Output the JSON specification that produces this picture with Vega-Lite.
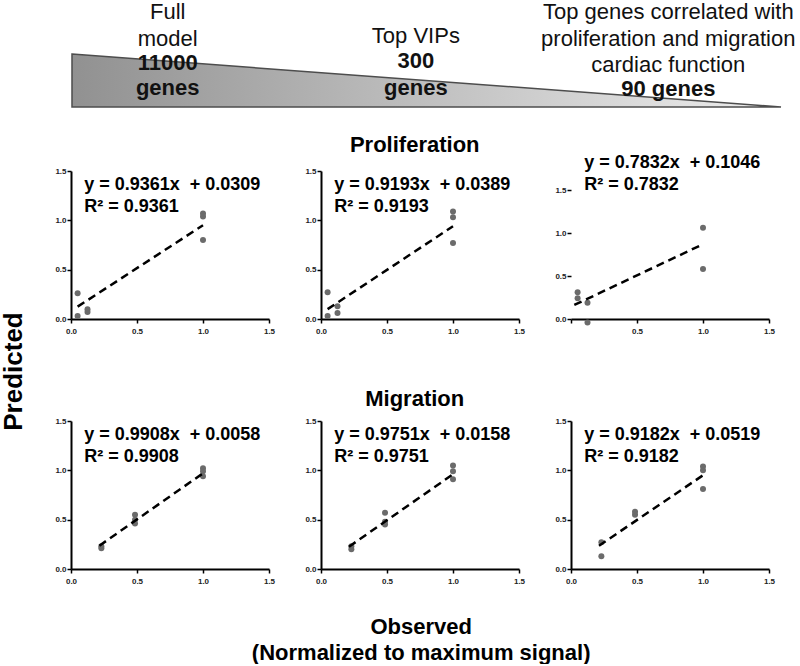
{
  "$schema": "https://vega.github.io/schema/vega-lite/v6.json",
  "padding": 0,
  "background": "white",
  "datasets": {
    "tri": [{"pos": 0, "h": 1}, {"pos": 1, "h": 0}],
    "hdr": [
      {"col": "left", "kind": "plain", "txt": ["Full", "model"]},
      {"col": "left", "kind": "bold", "txt": ["11000", "genes"]},
      {"col": "mid", "kind": "plain", "txt": ["Top VIPs"]},
      {"col": "mid", "kind": "bold", "txt": ["300", "genes"]},
      {"col": "right", "kind": "plain", "txt": ["Top genes correlated with", "proliferation and migration", "cardiac function"]},
      {"col": "right", "kind": "bold", "txt": ["90 genes"]}
    ],
    "pts": [
      {"panel": "P1", "obs": 0.05, "pred": 0.26}, {"panel": "P1", "obs": 0.05, "pred": 0.03}, {"panel": "P1", "obs": 0.125, "pred": 0.10}, {"panel": "P1", "obs": 0.125, "pred": 0.07}, {"panel": "P1", "obs": 1.0, "pred": 1.07}, {"panel": "P1", "obs": 1.0, "pred": 1.04}, {"panel": "P1", "obs": 1.0, "pred": 0.80},
      {"panel": "P2", "obs": 0.05, "pred": 0.27}, {"panel": "P2", "obs": 0.05, "pred": 0.03}, {"panel": "P2", "obs": 0.125, "pred": 0.13}, {"panel": "P2", "obs": 0.125, "pred": 0.06}, {"panel": "P2", "obs": 1.0, "pred": 1.09}, {"panel": "P2", "obs": 1.0, "pred": 1.03}, {"panel": "P2", "obs": 1.0, "pred": 0.77},
      {"panel": "P3", "obs": 0.05, "pred": 0.31}, {"panel": "P3", "obs": 0.05, "pred": 0.24}, {"panel": "P3", "obs": 0.125, "pred": 0.19}, {"panel": "P3", "obs": 0.125, "pred": -0.04}, {"panel": "P3", "obs": 1.0, "pred": 1.06}, {"panel": "P3", "obs": 1.0, "pred": 0.58},
      {"panel": "M1", "obs": 0.23, "pred": 0.23}, {"panel": "M1", "obs": 0.23, "pred": 0.21}, {"panel": "M1", "obs": 0.485, "pred": 0.55}, {"panel": "M1", "obs": 0.485, "pred": 0.50}, {"panel": "M1", "obs": 0.485, "pred": 0.46}, {"panel": "M1", "obs": 1.0, "pred": 1.02}, {"panel": "M1", "obs": 1.0, "pred": 0.99}, {"panel": "M1", "obs": 1.0, "pred": 0.94},
      {"panel": "M2", "obs": 0.23, "pred": 0.23}, {"panel": "M2", "obs": 0.23, "pred": 0.20}, {"panel": "M2", "obs": 0.485, "pred": 0.57}, {"panel": "M2", "obs": 0.485, "pred": 0.48}, {"panel": "M2", "obs": 0.485, "pred": 0.45}, {"panel": "M2", "obs": 1.0, "pred": 1.05}, {"panel": "M2", "obs": 1.0, "pred": 0.99}, {"panel": "M2", "obs": 1.0, "pred": 0.91},
      {"panel": "M3", "obs": 0.23, "pred": 0.27}, {"panel": "M3", "obs": 0.23, "pred": 0.13}, {"panel": "M3", "obs": 0.485, "pred": 0.58}, {"panel": "M3", "obs": 0.485, "pred": 0.55}, {"panel": "M3", "obs": 1.0, "pred": 1.04}, {"panel": "M3", "obs": 1.0, "pred": 1.00}, {"panel": "M3", "obs": 1.0, "pred": 0.81}
    ],
    "fits": [
      {"panel": "P1", "x0": 0.05, "y0": 0.125, "x1": 1.0, "y1": 0.95},
      {"panel": "P2", "x0": 0.05, "y0": 0.10, "x1": 1.0, "y1": 0.94},
      {"panel": "P3", "x0": 0.025, "y0": 0.163, "x1": 1.0, "y1": 0.87},
      {"panel": "M1", "x0": 0.215, "y0": 0.236, "x1": 1.0, "y1": 0.97},
      {"panel": "M2", "x0": 0.212, "y0": 0.226, "x1": 1.0, "y1": 0.96},
      {"panel": "M3", "x0": 0.212, "y0": 0.236, "x1": 1.0, "y1": 0.95}
    ],
    "eqs": [
      {"panel": "P1", "eq": "y = 0.9361x\u00a0 + 0.0309", "r2": "R² = 0.9361"},
      {"panel": "P2", "eq": "y = 0.9193x\u00a0 + 0.0389", "r2": "R² = 0.9193"},
      {"panel": "P3", "eq": "y = 0.7832x\u00a0 + 0.1046", "r2": "R² = 0.7832"},
      {"panel": "M1", "eq": "y = 0.9908x\u00a0 + 0.0058", "r2": "R² = 0.9908"},
      {"panel": "M2", "eq": "y = 0.9751x\u00a0 + 0.0158", "r2": "R² = 0.9751"},
      {"panel": "M3", "eq": "y = 0.9182x\u00a0 + 0.0519", "r2": "R² = 0.9182"}
    ]
  },
  "config": {
    "view": {"stroke": null},
    "font": "Liberation Sans",
    "axis": {"domainColor": "#000", "domainWidth": 2, "tickColor": "#000", "tickWidth": 1.5, "tickSize": 4, "labelFont": "Liberation Sans", "labelFontWeight": "bold", "labelFontSize": 8, "labelColor": "#222", "grid": false, "title": null, "labelFlush": false, "labelOverlap": false},
    "title": {"font": "Liberation Sans", "fontWeight": "bold", "fontSize": 22, "color": "#000", "anchor": "middle"}
  },
  "title": {"text": ["Observed", "(Normalized to maximum signal)"], "orient": "bottom", "anchor": "middle", "offset": 32, "dx": 23, "lineHeight": 26},
  "spacing": 23,
  "vconcat": [
    {
      "width": 712, "height": 107,
      "layer": [
        {"data": {"name": "tri"},
         "mark": {"type": "area", "line": false, "stroke": "#4d4d4d", "strokeWidth": 1.5, "fill": {"gradient": "linear", "x1": 0, "x2": 1, "y1": 0, "y2": 0, "stops": [{"offset": 0, "color": "#919191"}, {"offset": 1, "color": "#eeeeee"}]}},
         "encoding": {
           "x": {"field": "pos", "type": "quantitative", "scale": {"domain": [-0.0014, 1.0028], "nice": false, "zero": false}, "axis": null},
           "y": {"field": "h", "type": "quantitative", "scale": {"domain": [0, 2.02], "nice": false}, "axis": null},
           "y2": {"datum": 0}
         }},
        {"data": {"name": "hdr"}, "transform": [{"filter": "datum.col == 'left' && datum.kind == 'plain'"}],
         "mark": {"type": "text", "fontSize": 22, "lineHeight": 27, "baseline": "alphabetic", "align": "center", "color": "#111"},
         "encoding": {"x": {"datum": 0.135}, "y": {"datum": 1.66}, "text": {"field": "txt"}}},
        {"data": {"name": "hdr"}, "transform": [{"filter": "datum.col == 'left' && datum.kind == 'bold'"}],
         "mark": {"type": "text", "fontSize": 22, "fontWeight": "bold", "lineHeight": 25, "baseline": "alphabetic", "align": "center", "color": "#111"},
         "encoding": {"x": {"datum": 0.135}, "y": {"datum": 0.699}, "text": {"field": "txt"}}},
        {"data": {"name": "hdr"}, "transform": [{"filter": "datum.col == 'mid' && datum.kind == 'plain'"}],
         "mark": {"type": "text", "fontSize": 22, "lineHeight": 26, "baseline": "alphabetic", "align": "center", "color": "#111"},
         "encoding": {"x": {"datum": 0.485}, "y": {"datum": 1.208}, "text": {"field": "txt"}}},
        {"data": {"name": "hdr"}, "transform": [{"filter": "datum.col == 'mid' && datum.kind == 'bold'"}],
         "mark": {"type": "text", "fontSize": 22, "fontWeight": "bold", "lineHeight": 27, "baseline": "alphabetic", "align": "center", "color": "#111"},
         "encoding": {"x": {"datum": 0.485}, "y": {"datum": 0.736}, "text": {"field": "txt"}}},
        {"data": {"name": "hdr"}, "transform": [{"filter": "datum.col == 'right' && datum.kind == 'plain'"}],
         "mark": {"type": "text", "fontSize": 22, "lineHeight": 26.5, "baseline": "alphabetic", "align": "center", "color": "#111"},
         "encoding": {"x": {"datum": 0.841}, "y": {"datum": 1.66}, "text": {"field": "txt"}}},
        {"data": {"name": "hdr"}, "transform": [{"filter": "datum.col == 'right' && datum.kind == 'bold'"}],
         "mark": {"type": "text", "fontSize": 22, "fontWeight": "bold", "baseline": "alphabetic", "align": "center", "color": "#111"},
         "encoding": {"x": {"datum": 0.841}, "y": {"datum": 0.208}, "text": {"field": "txt"}}}
      ]
    },
    {
      "title": {"text": "Predicted", "orient": "left", "anchor": "middle", "fontSize": 26, "offset": 28, "dx": -12},
      "spacing": 53,
      "vconcat": [
        {
          "title": {"text": "Proliferation", "offset": -3},
          "bounds": "flush",
          "spacing": 52,
          "hconcat": [
            {"width": 198, "height": 148, "layer": [
              {"data": {"name": "pts"}, "transform": [{"filter": "datum.panel == 'P1'"}], "mark": {"type": "circle", "size": 36, "color": "#6b6b6b", "opacity": 1},
               "encoding": {"x": {"field": "obs", "type": "quantitative", "scale": {"domain": [0, 1.5], "nice": false}, "axis": {"values": [0, 0.5, 1, 1.5], "format": ".1f", "labelPadding": 4}},
                            "y": {"field": "pred", "type": "quantitative", "scale": {"domain": [0, 1.5], "nice": false}, "axis": {"values": [0, 0.5, 1, 1.5], "format": ".1f", "labelPadding": 1}}}},
              {"data": {"name": "fits"}, "transform": [{"filter": "datum.panel == 'P1'"}], "mark": {"type": "rule", "strokeDash": [8, 5], "strokeWidth": 2.5, "color": "#000"},
               "encoding": {"x": {"field": "x0", "type": "quantitative"}, "y": {"field": "y0", "type": "quantitative"}, "x2": {"field": "x1"}, "y2": {"field": "y1"}}},
              {"data": {"name": "eqs"}, "transform": [{"filter": "datum.panel == 'P1'"}], "mark": {"type": "text", "align": "left", "baseline": "alphabetic", "fontSize": 18, "fontWeight": "bold", "color": "#000"},
               "encoding": {"x": {"datum": 0.1}, "y": {"datum": 1.31}, "text": {"field": "eq"}}},
              {"data": {"name": "eqs"}, "transform": [{"filter": "datum.panel == 'P1'"}], "mark": {"type": "text", "align": "left", "baseline": "alphabetic", "fontSize": 18, "fontWeight": "bold", "color": "#000"},
               "encoding": {"x": {"datum": 0.1}, "y": {"datum": 1.08}, "text": {"field": "r2"}}}
            ]},
            {"width": 198, "height": 148, "layer": [
              {"data": {"name": "pts"}, "transform": [{"filter": "datum.panel == 'P2'"}], "mark": {"type": "circle", "size": 36, "color": "#6b6b6b", "opacity": 1},
               "encoding": {"x": {"field": "obs", "type": "quantitative", "scale": {"domain": [0, 1.5], "nice": false}, "axis": {"values": [0, 0.5, 1, 1.5], "format": ".1f", "labelPadding": 4}},
                            "y": {"field": "pred", "type": "quantitative", "scale": {"domain": [0, 1.5], "nice": false}, "axis": {"values": [0, 0.5, 1, 1.5], "format": ".1f", "labelPadding": 1}}}},
              {"data": {"name": "fits"}, "transform": [{"filter": "datum.panel == 'P2'"}], "mark": {"type": "rule", "strokeDash": [8, 5], "strokeWidth": 2.5, "color": "#000"},
               "encoding": {"x": {"field": "x0", "type": "quantitative"}, "y": {"field": "y0", "type": "quantitative"}, "x2": {"field": "x1"}, "y2": {"field": "y1"}}},
              {"data": {"name": "eqs"}, "transform": [{"filter": "datum.panel == 'P2'"}], "mark": {"type": "text", "align": "left", "baseline": "alphabetic", "fontSize": 18, "fontWeight": "bold", "color": "#000"},
               "encoding": {"x": {"datum": 0.1}, "y": {"datum": 1.31}, "text": {"field": "eq"}}},
              {"data": {"name": "eqs"}, "transform": [{"filter": "datum.panel == 'P2'"}], "mark": {"type": "text", "align": "left", "baseline": "alphabetic", "fontSize": 18, "fontWeight": "bold", "color": "#000"},
               "encoding": {"x": {"datum": 0.1}, "y": {"datum": 1.08}, "text": {"field": "r2"}}}
            ]},
            {"width": 198, "height": 148, "layer": [
              {"data": {"name": "pts"}, "transform": [{"filter": "datum.panel == 'P3'"}], "mark": {"type": "circle", "size": 36, "color": "#6b6b6b", "opacity": 1},
               "encoding": {"x": {"field": "obs", "type": "quantitative", "scale": {"domain": [0, 1.5], "nice": false}, "axis": {"values": [0, 0.5, 1, 1.5], "format": ".1f", "labelPadding": 4, "labelExpr": "datum.value == 0 ? '' : datum.label"}},
                            "y": {"field": "pred", "type": "quantitative", "scale": {"domain": [0, 1.721], "nice": false, "zero": false}, "axis": {"values": [0, 0.5, 1, 1.5], "format": ".1f", "labelPadding": 1, "domain": false}}}},
              {"mark": {"type": "rule", "color": "#000", "strokeWidth": 2},
               "encoding": {"x": {"datum": 0}, "y": {"datum": -0.08}, "y2": {"datum": 1.5}}},
              {"data": {"name": "fits"}, "transform": [{"filter": "datum.panel == 'P3'"}], "mark": {"type": "rule", "strokeDash": [8, 5], "strokeWidth": 2.5, "color": "#000"},
               "encoding": {"x": {"field": "x0", "type": "quantitative"}, "y": {"field": "y0", "type": "quantitative"}, "x2": {"field": "x1"}, "y2": {"field": "y1"}}},
              {"data": {"name": "eqs"}, "transform": [{"filter": "datum.panel == 'P3'"}], "mark": {"type": "text", "align": "left", "baseline": "alphabetic", "fontSize": 18, "fontWeight": "bold", "color": "#000"},
               "encoding": {"x": {"datum": 0.1}, "y": {"datum": 1.756}, "text": {"field": "eq"}}},
              {"data": {"name": "eqs"}, "transform": [{"filter": "datum.panel == 'P3'"}], "mark": {"type": "text", "align": "left", "baseline": "alphabetic", "fontSize": 18, "fontWeight": "bold", "color": "#000"},
               "encoding": {"x": {"datum": 0.1}, "y": {"datum": 1.5}, "text": {"field": "r2"}}}
            ]}
          ]
        },
        {
          "title": {"text": "Migration", "offset": 6},
          "bounds": "flush",
          "spacing": 52,
          "hconcat": [
            {"width": 198, "height": 148, "layer": [
              {"data": {"name": "pts"}, "transform": [{"filter": "datum.panel == 'M1'"}], "mark": {"type": "circle", "size": 36, "color": "#6b6b6b", "opacity": 1},
               "encoding": {"x": {"field": "obs", "type": "quantitative", "scale": {"domain": [0, 1.5], "nice": false}, "axis": {"values": [0, 0.5, 1, 1.5], "format": ".1f", "labelPadding": 4}},
                            "y": {"field": "pred", "type": "quantitative", "scale": {"domain": [0, 1.5], "nice": false}, "axis": {"values": [0, 0.5, 1, 1.5], "format": ".1f", "labelPadding": 1}}}},
              {"data": {"name": "fits"}, "transform": [{"filter": "datum.panel == 'M1'"}], "mark": {"type": "rule", "strokeDash": [8, 5], "strokeWidth": 2.5, "color": "#000"},
               "encoding": {"x": {"field": "x0", "type": "quantitative"}, "y": {"field": "y0", "type": "quantitative"}, "x2": {"field": "x1"}, "y2": {"field": "y1"}}},
              {"data": {"name": "eqs"}, "transform": [{"filter": "datum.panel == 'M1'"}], "mark": {"type": "text", "align": "left", "baseline": "alphabetic", "fontSize": 18, "fontWeight": "bold", "color": "#000"},
               "encoding": {"x": {"datum": 0.1}, "y": {"datum": 1.31}, "text": {"field": "eq"}}},
              {"data": {"name": "eqs"}, "transform": [{"filter": "datum.panel == 'M1'"}], "mark": {"type": "text", "align": "left", "baseline": "alphabetic", "fontSize": 18, "fontWeight": "bold", "color": "#000"},
               "encoding": {"x": {"datum": 0.1}, "y": {"datum": 1.08}, "text": {"field": "r2"}}}
            ]},
            {"width": 198, "height": 148, "layer": [
              {"data": {"name": "pts"}, "transform": [{"filter": "datum.panel == 'M2'"}], "mark": {"type": "circle", "size": 36, "color": "#6b6b6b", "opacity": 1},
               "encoding": {"x": {"field": "obs", "type": "quantitative", "scale": {"domain": [0, 1.5], "nice": false}, "axis": {"values": [0, 0.5, 1, 1.5], "format": ".1f", "labelPadding": 4}},
                            "y": {"field": "pred", "type": "quantitative", "scale": {"domain": [0, 1.5], "nice": false}, "axis": {"values": [0, 0.5, 1, 1.5], "format": ".1f", "labelPadding": 1}}}},
              {"data": {"name": "fits"}, "transform": [{"filter": "datum.panel == 'M2'"}], "mark": {"type": "rule", "strokeDash": [8, 5], "strokeWidth": 2.5, "color": "#000"},
               "encoding": {"x": {"field": "x0", "type": "quantitative"}, "y": {"field": "y0", "type": "quantitative"}, "x2": {"field": "x1"}, "y2": {"field": "y1"}}},
              {"data": {"name": "eqs"}, "transform": [{"filter": "datum.panel == 'M2'"}], "mark": {"type": "text", "align": "left", "baseline": "alphabetic", "fontSize": 18, "fontWeight": "bold", "color": "#000"},
               "encoding": {"x": {"datum": 0.1}, "y": {"datum": 1.31}, "text": {"field": "eq"}}},
              {"data": {"name": "eqs"}, "transform": [{"filter": "datum.panel == 'M2'"}], "mark": {"type": "text", "align": "left", "baseline": "alphabetic", "fontSize": 18, "fontWeight": "bold", "color": "#000"},
               "encoding": {"x": {"datum": 0.1}, "y": {"datum": 1.08}, "text": {"field": "r2"}}}
            ]},
            {"width": 198, "height": 148, "layer": [
              {"data": {"name": "pts"}, "transform": [{"filter": "datum.panel == 'M3'"}], "mark": {"type": "circle", "size": 36, "color": "#6b6b6b", "opacity": 1},
               "encoding": {"x": {"field": "obs", "type": "quantitative", "scale": {"domain": [0, 1.5], "nice": false}, "axis": {"values": [0, 0.5, 1, 1.5], "format": ".1f", "labelPadding": 4}},
                            "y": {"field": "pred", "type": "quantitative", "scale": {"domain": [0, 1.5], "nice": false}, "axis": {"values": [0, 0.5, 1, 1.5], "format": ".1f", "labelPadding": 1}}}},
              {"data": {"name": "fits"}, "transform": [{"filter": "datum.panel == 'M3'"}], "mark": {"type": "rule", "strokeDash": [8, 5], "strokeWidth": 2.5, "color": "#000"},
               "encoding": {"x": {"field": "x0", "type": "quantitative"}, "y": {"field": "y0", "type": "quantitative"}, "x2": {"field": "x1"}, "y2": {"field": "y1"}}},
              {"data": {"name": "eqs"}, "transform": [{"filter": "datum.panel == 'M3'"}], "mark": {"type": "text", "align": "left", "baseline": "alphabetic", "fontSize": 18, "fontWeight": "bold", "color": "#000"},
               "encoding": {"x": {"datum": 0.1}, "y": {"datum": 1.31}, "text": {"field": "eq"}}},
              {"data": {"name": "eqs"}, "transform": [{"filter": "datum.panel == 'M3'"}], "mark": {"type": "text", "align": "left", "baseline": "alphabetic", "fontSize": 18, "fontWeight": "bold", "color": "#000"},
               "encoding": {"x": {"datum": 0.1}, "y": {"datum": 1.08}, "text": {"field": "r2"}}}
            ]}
          ]
        }
      ]
    }
  ]
}
